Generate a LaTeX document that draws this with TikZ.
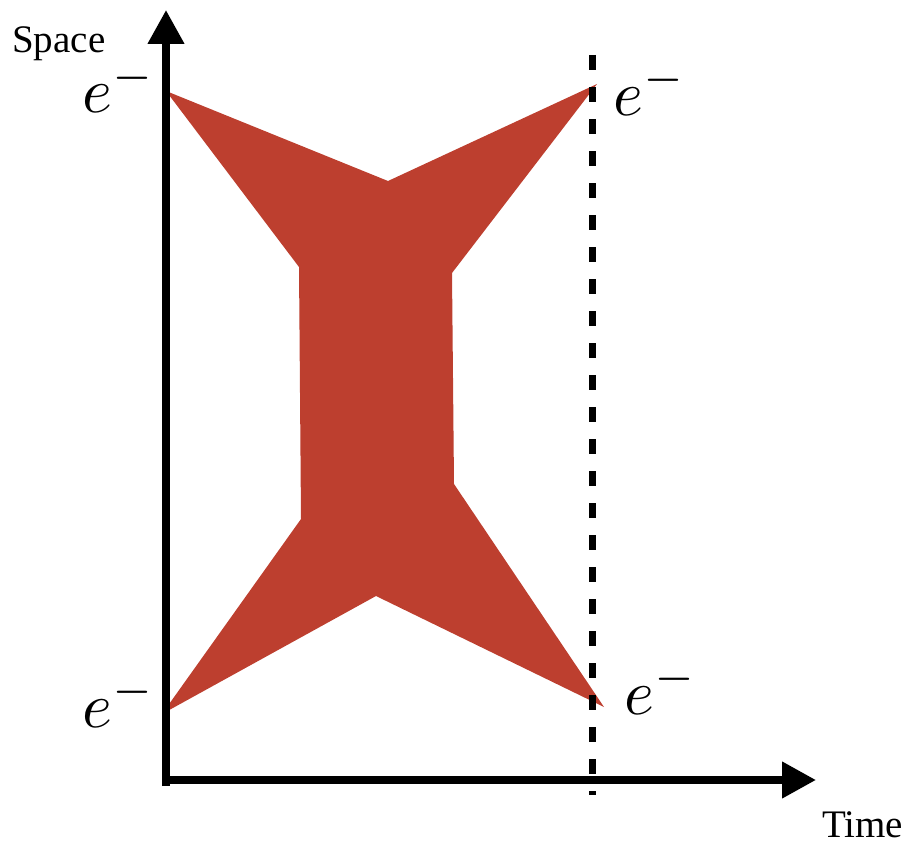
\documentclass[tikz,border=0pt]{standalone}
\usepackage{fontspec}
\setmainfont{Liberation Serif}
\usetikzlibrary{arrows.meta}
\definecolor{blobred}{RGB}{189,63,47}
\tikzset{
  axisline/.style={line width=7.5pt, -{Triangle[length=34pt,width=35pt]}},
  dashline/.style={line width=7pt, dash pattern=on 15pt off 17pt},
  elabel/.style={anchor=base west, inner sep=0pt, scale=6.4},
  axlabel/.style={anchor=base west, inner sep=0pt, font=\fontsize{39}{42}\selectfont},
  blob/.style={fill=blobred, draw=none}
}
\begin{document}
\begin{tikzpicture}[x=1pt,y=-1pt]
\useasboundingbox (0,0) rectangle (911,843);
% shape
\fill[blob] (166,91) -- (388,181) -- (597,84) -- (452,273) -- (454,484)
  -- (604,707) -- (376,596) -- (162,714) -- (301,519) -- (299,267) -- cycle;
% axes
\coordinate (ybot) at (166,786);
\coordinate (ytop) at (166,10);
\coordinate (xleft) at (162,780);
\coordinate (xright) at (816,780);
\draw[axisline] (ybot) -- (ytop);
\draw[axisline] (xleft) -- (xright);
% dashed line
\coordinate (dtop) at (592,55);
\coordinate (dbot) at (592,795);
\draw[dashline] (dtop) -- (dbot);
% labels
\node[axlabel] (space) at (12,53) {Space};
\node[axlabel] (time) at (822,837) {Time};
\node[elabel] (e1) at (81,113) {$e^-$};
\node[elabel] (e2) at (612,115) {$e^-$};
\node[elabel] (e3) at (81,727) {$e^-$};
\node[elabel] (e4) at (623,714) {$e^-$};
\end{tikzpicture}
\end{document}
